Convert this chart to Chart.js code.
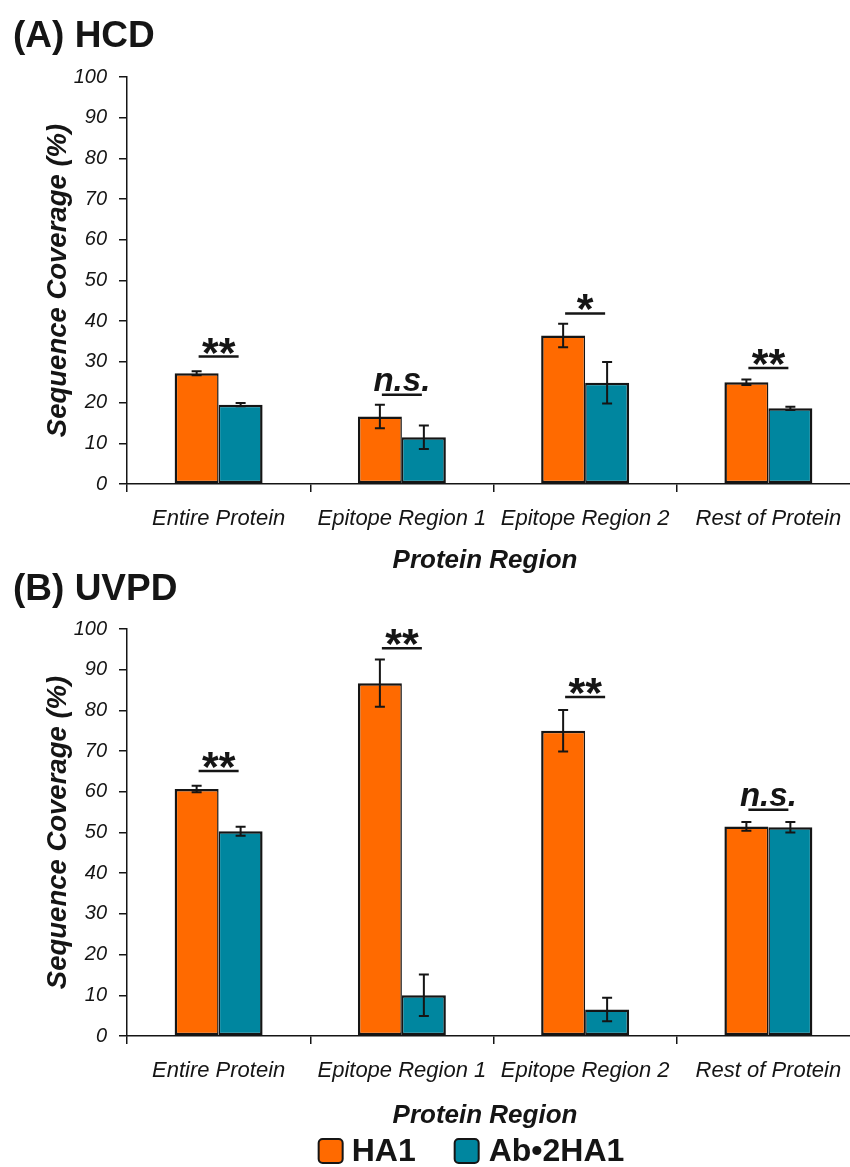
<!DOCTYPE html>
<html>
<head>
<meta charset="utf-8">
<script src="https://cdn.jsdelivr.net/npm/chart.js@4.4.1/dist/chart.umd.min.js"></script>
<style>
  html, body { margin: 0; padding: 0; overflow: hidden; background: #fff; width: 850px; height: 1167px; }
  canvas { position: absolute; left: 0; }
  #hcd { top: 0; }
  #uvpd { top: 560px; }
</style>
</head>
<body>
<canvas id="hcd" width="870" height="590"></canvas>
<canvas id="uvpd" width="870" height="607"></canvas>
<script>
// categories + series
const regions = ['Entire Protein', 'Epitope Region 1', 'Epitope Region 2', 'Rest of Protein'];
const seriesNames = ['HA1', 'Ab•2HA1'];
const seriesColors = ['#ff6a00', '#00869f'];

// (A) HCD
const hcdHA1 = [27.2, 16.6, 36.5, 25.0];
const hcdHA1Err = [0.5, 2.9, 2.9, 0.7];
const hcdAb = [19.5, 11.5, 24.9, 18.6];
const hcdAbErr = [0.4, 2.9, 5.1, 0.4];
const hcdSig = ['**', 'n.s.', '*', '**'];
const hcdSigLevel = [31.3, 21.9, 41.9, 28.5];

// (B) UVPD
const uvpdHA1 = [60.7, 86.7, 75.0, 51.5];
const uvpdHA1Err = [0.8, 5.8, 5.1, 1.1];
const uvpdAb = [50.3, 10.0, 6.5, 51.3];
const uvpdAbErr = [1.1, 5.1, 2.9, 1.3];
const uvpdSig = ['**', '**', '**', 'n.s.'];
const uvpdSigLevel = [65.1, 95.3, 83.3, 55.6];

const FONT = "'Liberation Sans', Arial, sans-serif";
const INK = '#151515';
Chart.defaults.font.family = FONT;
Chart.defaults.color = INK;

// error bars, significance marks, panel title, x title, legend
const panelExtras = {
  id: 'panelExtras',
  afterDatasetsDraw(chart, args, o) {
    const { ctx, scales: { x, y } } = chart;
    ctx.save();
    ctx.strokeStyle = INK;
    ctx.lineWidth = 2;
    chart.data.datasets.forEach((ds, i) => {
      chart.getDatasetMeta(i).data.forEach((bar, j) => {
        const v = ds.data[j], e = ds.errors[j];
        const yt = y.getPixelForValue(v + e), yb = y.getPixelForValue(v - e);
        ctx.beginPath();
        ctx.moveTo(bar.x, yt); ctx.lineTo(bar.x, yb);
        ctx.moveTo(bar.x - 5, yt); ctx.lineTo(bar.x + 5, yt);
        ctx.moveTo(bar.x - 5, yb); ctx.lineTo(bar.x + 5, yb);
        ctx.stroke();
      });
    });
    // significance
    ctx.fillStyle = INK;
    ctx.textAlign = 'center';
    ctx.textBaseline = 'alphabetic';
    o.sig.forEach((txt, j) => {
      const cx = x.getPixelForValue(j);
      const ly = y.getPixelForValue(o.sigLevel[j]);
      ctx.lineWidth = 2.5;
      ctx.beginPath();
      ctx.moveTo(cx - 20, ly); ctx.lineTo(cx + 20, ly);
      ctx.stroke();
      const ns = txt === 'n.s.';
      ctx.font = ns ? `italic bold 33px ${FONT}` : `bold 43px ${FONT}`;
      const m = ctx.measureText(txt);
      const gap = ns ? 4 : 3;
      ctx.fillText(txt, cx, ly - gap - m.actualBoundingBoxDescent);
    });
    ctx.restore();
  },
  afterDraw(chart, args, o) {
    const ctx = chart.ctx;
    ctx.save();
    ctx.fillStyle = INK;
    ctx.textBaseline = 'alphabetic';
    ctx.textAlign = 'left';
    ctx.font = `bold 37px ${FONT}`;
    ctx.fillText(o.title, 13, o.titleY);
    ctx.textAlign = 'center';
    ctx.font = `italic bold 26px ${FONT}`;
    ctx.fillText('Protein Region', 485, o.xTitleY);
    if (o.legendY) {
      ctx.font = `bold 32px ${FONT}`;
      const box = 24;
      const w = chart.data.datasets.map(ds => ctx.measureText(ds.label).width);
      const total = box + 9 + w[0] + 39 + box + 10 + w[1];
      let lx = 471.5 - total / 2;
      ctx.textAlign = 'left';
      ctx.textBaseline = 'middle';
      chart.data.datasets.forEach((ds, i) => {
        ctx.beginPath();
        ctx.roundRect(lx, o.legendY - box / 2, box, box, 4);
        ctx.fillStyle = ds.backgroundColor;
        ctx.fill();
        ctx.lineWidth = 2;
        ctx.strokeStyle = INK;
        ctx.stroke();
        lx += box + (i === 0 ? 9 : 10);
        ctx.fillStyle = INK;
        ctx.fillText(ds.label, lx, o.legendY + 1);
        lx += w[i] + 39;
      });
    }
    ctx.restore();
  }
};

function makeChart(id, ha1, ha1Err, ab, abErr, extras, padTop, xHeight) {
  return new Chart(document.getElementById(id), {
    type: 'bar',
    data: {
      labels: regions,
      datasets: [
        { label: seriesNames[0], data: ha1, errors: ha1Err, backgroundColor: seriesColors[0],
          borderColor: INK, borderWidth: { top: 2.5, left: 2.5, bottom: 2.5, right: 1.5 }, borderSkipped: false },
        { label: seriesNames[1], data: ab, errors: abErr, backgroundColor: seriesColors[1],
          borderColor: INK, borderWidth: { top: 2.5, left: 1.5, bottom: 2.5, right: 2.5 }, borderSkipped: false }
      ]
    },
    options: {
      responsive: false,
      animation: false,
      layout: { padding: { top: padTop, left: 0, right: 10, bottom: 0 } },
      categoryPercentage: 0.48,
      barPercentage: 1.0,
      plugins: { legend: { display: false }, tooltip: { enabled: false }, panelExtras: extras },
      scales: {
        x: {
          grid: { drawOnChartArea: false, drawTicks: true, tickLength: 8, color: INK, lineWidth: 1.5 },
          border: { display: true, color: INK, width: 1.5 },
          ticks: { font: { size: 22, style: 'italic' }, padding: 14, color: INK, maxRotation: 0, autoSkip: false },
          afterFit: s => { s.height = xHeight; }
        },
        y: {
          min: 0, max: 100,
          grid: { drawOnChartArea: false, drawTicks: true, tickLength: 8, color: INK, lineWidth: 1.5 },
          border: { display: true, color: INK, width: 1.5 },
          ticks: { stepSize: 5, font: { size: 20, style: 'italic' }, padding: 12, color: INK,
                   callback: v => (v % 10 === 0 ? v : '') },
          title: { display: true, text: 'Sequence Coverage (%)', color: INK,
                   font: { size: 27.5, weight: 'bold', style: 'italic' }, padding: { top: 42, bottom: 0 } },
          afterFit: s => { s.width = 127; }
        }
      }
    },
    plugins: [panelExtras]
  });
}

makeChart('hcd', hcdHA1, hcdHA1Err, hcdAb, hcdAbErr,
  { title: '(A) HCD', titleY: 47, xTitleY: 568, sig: hcdSig, sigLevel: hcdSigLevel }, 77, 106);
makeChart('uvpd', uvpdHA1, uvpdHA1Err, uvpdAb, uvpdAbErr,
  { title: '(B) UVPD', titleY: 40, xTitleY: 563, legendY: 591, sig: uvpdSig, sigLevel: uvpdSigLevel }, 69, 131);
</script>
</body>
</html>
